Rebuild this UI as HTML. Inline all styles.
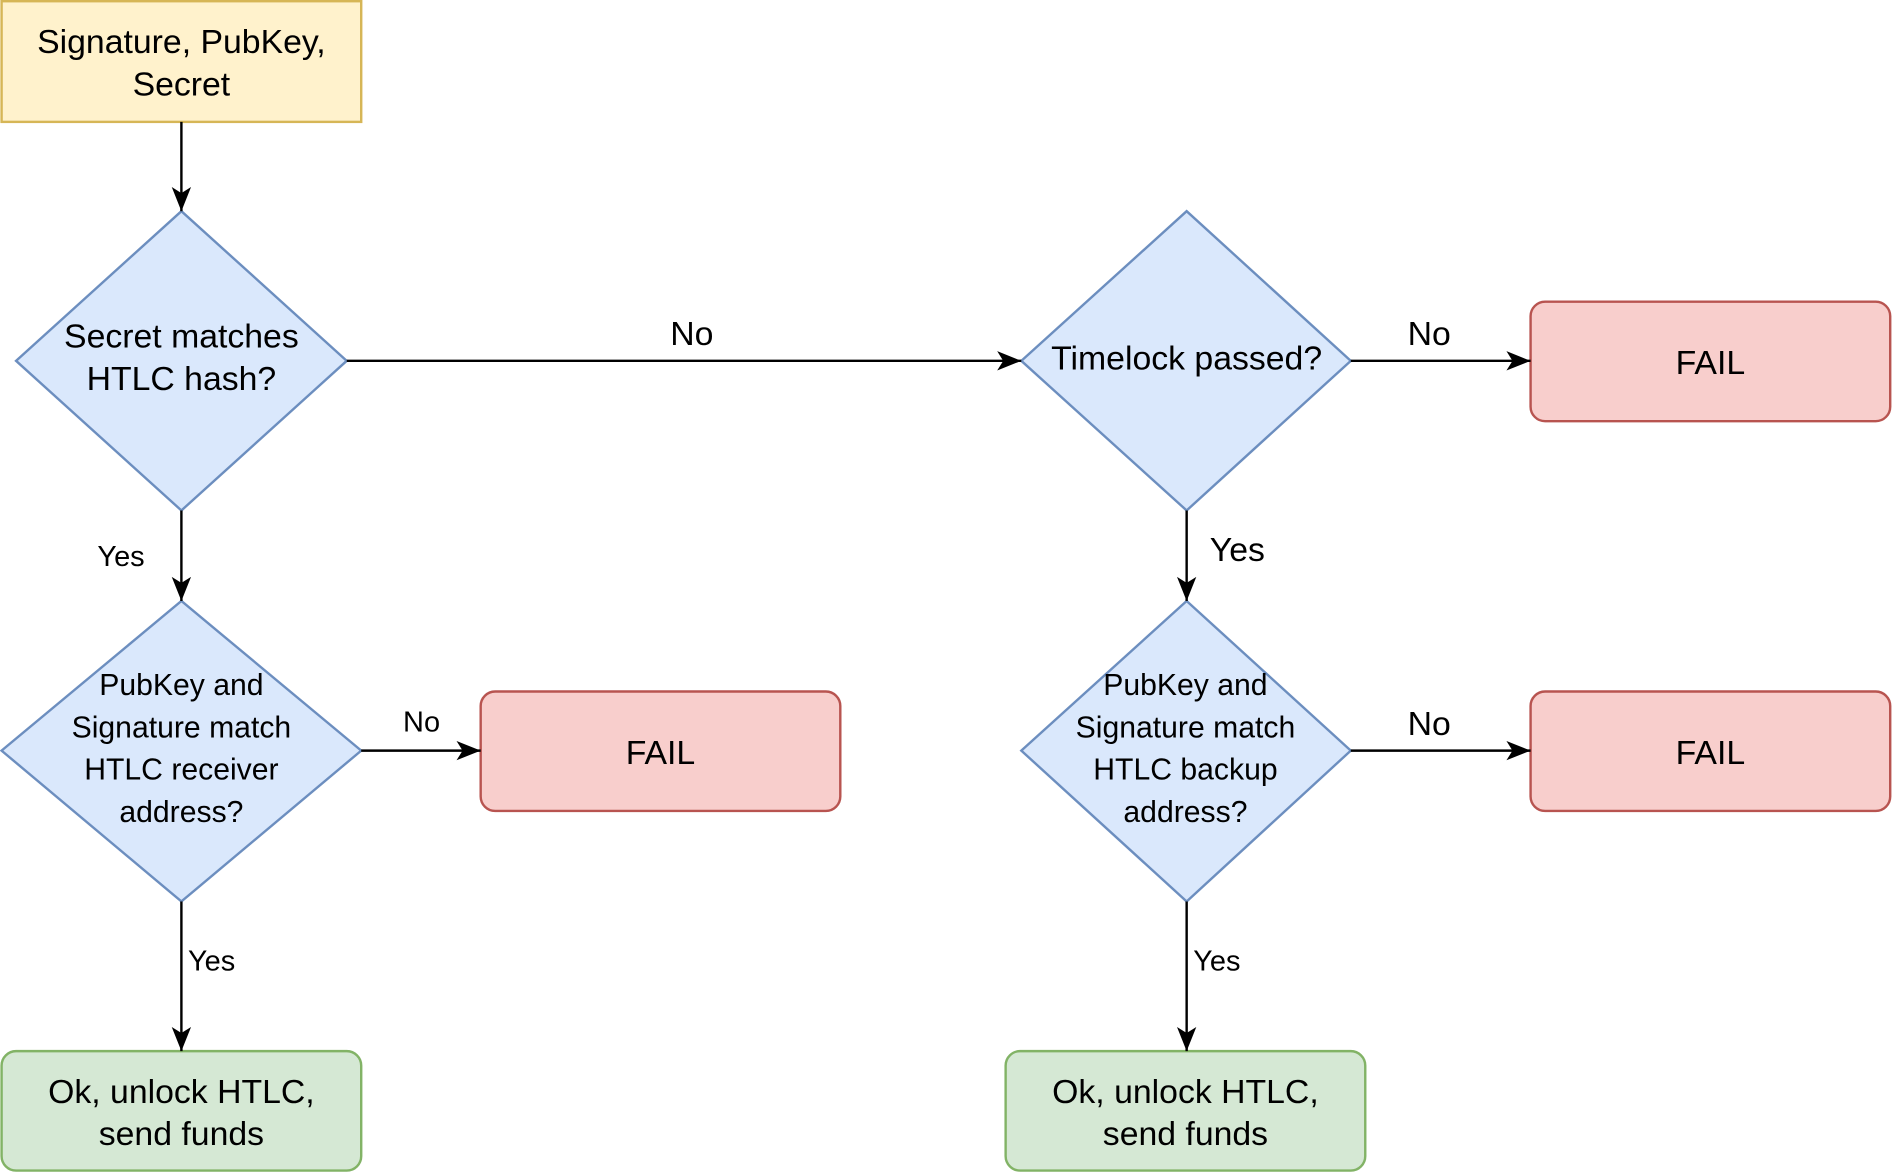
<!DOCTYPE html>
<html><head><meta charset="utf-8"><style>html,body{margin:0;padding:0;background:#fff;}svg{display:block;}</style></head>
<body>
<svg width="1893" height="1173" viewBox="0 0 1568 972" xmlns="http://www.w3.org/2000/svg" font-family="Liberation Sans, sans-serif">
<defs>
<marker id="a" markerWidth="24" markerHeight="20" refX="22" refY="10" orient="auto" markerUnits="userSpaceOnUse">
<path d="M2,2 L22,10 L2,18 L7,10 Z" fill="#000"/>
</marker>
</defs>
<g stroke-width="2">
<rect x="1" y="1" width="298" height="100" fill="#fff2cc" stroke="#d6b656"/>
<polygon points="150,175 287,299 150,423 13,299" fill="#dae8fc" stroke="#6c8ebf"/>
<polygon points="983,175 1119,299 983,423 846,299" fill="#dae8fc" stroke="#6c8ebf"/>
<polygon points="150,498 299,622 150,747 1,622" fill="#dae8fc" stroke="#6c8ebf"/>
<polygon points="983,498 1119,622 983,747 846,622" fill="#dae8fc" stroke="#6c8ebf"/>
<rect x="1268" y="250" width="298" height="99" rx="12" fill="#f8cecc" stroke="#b85450"/>
<rect x="398" y="573" width="298" height="99" rx="12" fill="#f8cecc" stroke="#b85450"/>
<rect x="1268" y="573" width="298" height="99" rx="12" fill="#f8cecc" stroke="#b85450"/>
<rect x="1" y="871" width="298" height="99" rx="12" fill="#d5e8d4" stroke="#82b366"/>
<rect x="833" y="871" width="298" height="99" rx="12" fill="#d5e8d4" stroke="#82b366"/>
</g>
<g stroke="#000" stroke-width="2" fill="none" marker-end="url(#a)">
<line x1="150" y1="101" x2="150" y2="175"/>
<line x1="287" y1="299" x2="846" y2="299"/>
<line x1="1119" y1="299" x2="1268" y2="299"/>
<line x1="150" y1="423" x2="150" y2="498"/>
<line x1="299" y1="622" x2="398" y2="622"/>
<line x1="150" y1="747" x2="150" y2="871"/>
<line x1="983" y1="423" x2="983" y2="498"/>
<line x1="1119" y1="622" x2="1268" y2="622"/>
<line x1="983" y1="747" x2="983" y2="871"/>
</g>
<g font-size="28" text-anchor="middle" fill="#000">
<text x="150" y="44">Signature, PubKey,</text>
<text x="150" y="79">Secret</text>
<text x="150" y="288">Secret matches</text>
<text x="150" y="323">HTLC hash?</text>
<text x="983" y="306">Timelock passed?</text>
<text x="1417" y="310">FAIL</text>
<text x="547" y="633">FAIL</text>
<text x="1417" y="633">FAIL</text>
<text x="150" y="914">Ok, unlock HTLC,</text>
<text x="150" y="949">send funds</text>
<text x="982" y="914">Ok, unlock HTLC,</text>
<text x="982" y="949">send funds</text>
<text x="573" y="286">No</text>
<text x="1184" y="286">No</text>
<text x="1184" y="609">No</text>
<text x="1025" y="465">Yes</text>
</g>
<g font-size="25" text-anchor="middle" fill="#000">
<text x="150" y="576">PubKey and</text>
<text x="150" y="611">Signature match</text>
<text x="150" y="646">HTLC receiver</text>
<text x="150" y="681">address?</text>
<text x="982" y="576">PubKey and</text>
<text x="982" y="611">Signature match</text>
<text x="982" y="646">HTLC backup</text>
<text x="982" y="681">address?</text>
</g>
<g font-size="24" text-anchor="middle" fill="#000">
<text x="100" y="469">Yes</text>
<text x="349" y="606">No</text>
<text x="175" y="804">Yes</text>
<text x="1008" y="804">Yes</text>
</g>
</svg>
</body></html>
